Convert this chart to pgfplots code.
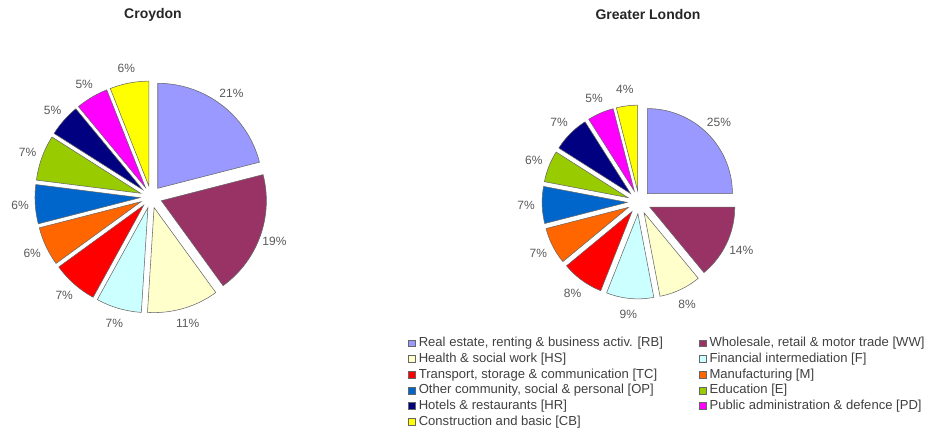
\documentclass[border=0pt]{standalone}
\usepackage{pgfplots}
\usepackage{pgfplotstable}
\pgfplotsset{compat=1.18}
\usepackage{fontspec}
\setmainfont{Liberation Sans}

\definecolor{sc0}{HTML}{9999FF}
\definecolor{sc1}{HTML}{993366}
\definecolor{sc2}{HTML}{FFFFCC}
\definecolor{sc3}{HTML}{CCFFFF}
\definecolor{sc4}{HTML}{FF0000}
\definecolor{sc5}{HTML}{FF6600}
\definecolor{sc6}{HTML}{0066CC}
\definecolor{sc7}{HTML}{99CC00}
\definecolor{sc8}{HTML}{000080}
\definecolor{sc9}{HTML}{FF00FF}
\definecolor{sc10}{HTML}{FFFF00}

% Croydon shares (%), clockwise from 12 o'clock
\pgfplotstableread{
code value
RB 21
WW 19
HS 11
F  7
TC 7
M  6
OP 6
E  7
HR 5
PD 5
CB 6
}\croydon

% Greater London shares (%)
\pgfplotstableread{
code value
RB 25
WW 14
HS 8
F  9
TC 8
M  7
OP 7
E  6
HR 7
PD 5
CB 4
}\london

\makeatletter
\newcommand\piesetup[4]{% table, prefix, explode, label radius
  \def\pie@cum{0}%
  \pgfplotsforeachungrouped \pie@i in {0,...,10}{%
    \pgfplotstablegetelem{\pie@i}{value}\of{#1}%
    \let\pie@v\pgfplotsretval
    \pgfmathsetmacro\pie@a{90-3.6*\pie@cum}%
    \pgfmathsetmacro\pie@cum{\pie@cum+\pie@v}%
    \pgfmathsetmacro\pie@b{90-3.6*\pie@cum}%
    \pgfmathsetmacro\pie@m{(\pie@a+\pie@b)/2}%
    \pgfmathsetmacro\pie@dx{#3*cos(\pie@m)}%
    \pgfmathsetmacro\pie@dy{#3*sin(\pie@m)}%
    \pgfmathsetmacro\pie@lx{#4*cos(\pie@m)}%
    \pgfmathsetmacro\pie@ly{#4*sin(\pie@m)}%
    \expandafter\xdef\csname pie@#2@a@\pie@i\endcsname{\pie@a}%
    \expandafter\xdef\csname pie@#2@b@\pie@i\endcsname{\pie@b}%
    \expandafter\xdef\csname pie@#2@dx@\pie@i\endcsname{\pie@dx}%
    \expandafter\xdef\csname pie@#2@dy@\pie@i\endcsname{\pie@dy}%
    \expandafter\xdef\csname pie@#2@lx@\pie@i\endcsname{\pie@lx}%
    \expandafter\xdef\csname pie@#2@ly@\pie@i\endcsname{\pie@ly}%
    \expandafter\xdef\csname pie@#2@v@\pie@i\endcsname{\pie@v}%
  }%
}
\newcommand\drawslice[2]{%
  \edef\pie@do{\noexpand\addplot[fill=sc#2, slice,
      domain=\csname pie@#1@b@#2\endcsname:\csname pie@#1@a@#2\endcsname]
    ({\csname pie@#1@dx@#2\endcsname+cos(x)},{\csname pie@#1@dy@#2\endcsname+sin(x)})
    -- (axis cs:\csname pie@#1@dx@#2\endcsname,\csname pie@#1@dy@#2\endcsname) -- cycle;
    \noexpand\node[pielabel] at (axis cs:\csname pie@#1@lx@#2\endcsname,\csname pie@#1@ly@#2\endcsname) {\csname pie@#1@v@#2\endcsname\noexpand\%};}%
  \pie@do
}
\makeatother

\piesetup{\croydon}{C}{0.105}{1.25}
\piesetup{\london}{L}{0.14}{1.33}

\pgfplotsset{
  slice/.style={draw=black!60, line width=0.4pt, samples=40},
  pieaxis/.style={hide axis, scale only axis, clip=false, no markers,
    xmin=-1.5, xmax=1.5, ymin=-1.5, ymax=1.5, anchor=origin},
}
\tikzset{pielabel/.style={font=\fontsize{9}{10}\selectfont, text=black!65, inner sep=0pt}}

\begin{document}
\begin{tikzpicture}
\useasboundingbox (0,0) rectangle (695.25pt,324pt);

\begin{axis}[pieaxis, at={(113.25pt,176.25pt)}, width=236.25pt, height=236.25pt]
\pgfplotsinvokeforeach{0,...,10}{\drawslice{C}{#1}}
\end{axis}

\begin{axis}[pieaxis, at={(479.25pt,172.5pt)}, width=191.25pt, height=191.25pt,
  legend columns=2,
  legend cell align=left,
  legend image code/.code={\draw[#1, draw=black!60, line width=0.4pt] (0pt,-2.6pt) rectangle (5.2pt,2.6pt);},
  legend style={at={(-0.406,-0.0294)}, anchor=north west, draw=none, fill=none,
    inner sep=0pt, font=\fontsize{9.8}{11}\selectfont, text=black!75,
    row sep=2.8pt,
    nodes={inner sep=0pt, text height=7pt, text depth=2pt},
    /tikz/every odd column/.append style={column sep=2.3pt},
    /tikz/every even column/.append style={column sep=27pt}},
]
\pgfplotsinvokeforeach{0,...,10}{\drawslice{L}{#1}}
\legend{{Real estate, renting \& business activ. [RB]},
  {Wholesale, retail \& motor trade [WW]},
  {Health \& social work [HS]},
  {Financial intermediation [F]},
  {Transport, storage \& communication [TC]},
  {Manufacturing [M]},
  {Other community, social \& personal [OP]},
  {Education [E]},
  {Hotels \& restaurants [HR]},
  {Public administration \& defence [PD]},
  {Construction and basic [CB]}}
\end{axis}

\node[font=\bfseries\fontsize{10.5}{12}\selectfont, text=black!85] at (114.75pt,312.75pt) {Croydon};
\node[font=\bfseries\fontsize{10.5}{12}\selectfont, text=black!85] at (486pt,312.75pt) {Greater London};
\end{tikzpicture}
\end{document}
